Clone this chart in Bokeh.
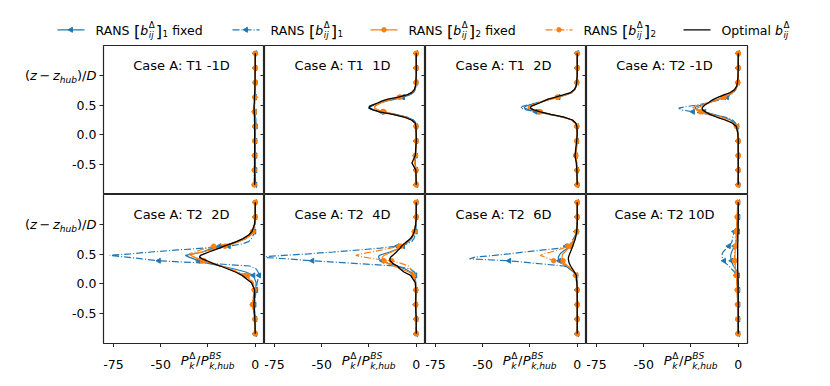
import math
from bokeh.plotting import figure
from bokeh.models import Range1d, LinearAxis, FixedTicker, Label, LabelSet, ColumnDataSource
from bokeh.core.properties import value
from bokeh.layouts import column, row
from bokeh.embed import file_html
from bokeh.resources import INLINE

# ------------------------------------------------------------------ data
# common vertical sampling (z - z_hub)/D of all profiles
Y_GRID = [-0.837, -0.592, -0.47, -0.347, -0.102, 0.02, 0.143, 0.2, 0.25, 0.3,
          0.345, 0.388, 0.42, 0.45, 0.478, 0.505, 0.535, 0.57, 0.6, 0.633,
          0.67, 0.71, 0.76, 0.82, 0.878, 1.0, 1.123, 1.245, 1.368]
MARKER_IDX = [0, 1, 3, 4, 6, 11, 19, 24, 26, 28]

X_TICKS = [-75, -50, -25, 0]
X_TICK_LABELS = ["-75", "-50", "", "0"]
Y_TICKS = [-0.5, 0.0, 0.5, 1.0]
Y_TICK_LABELS = ["-0.5", "0.0", "0.5", ""]

TITLES = ["Case A: T1 -1D", "Case A: T1 \u00a01D", "Case A: T1 \u00a02D", "Case A: T2 -1D",
          "Case A: T2 \u00a02D", "Case A: T2 \u00a04D", "Case A: T2 \u00a06D", "Case A: T2 10D"]

# T1 -1D
t1m1_b1f = [0, 0, 0, 0, 0, 0, 0.2, 0.2, 0.2, 0.1, 0, -0.2, -0.3, -0.4, -0.4, -0.4, -0.3, -0.3, -0.2, -0.1, 0, 0.1, 0.1, 0.1, 0.1, 0, 0, 0, 0]
t1m1_b1 = [0, 0, 0, 0, 0, 0.1, 0.2, 0.3, 0.3, 0.2, 0, -0.3, -0.5, -0.6, -0.6, -0.5, -0.4, -0.3, -0.2, -0.1, 0, 0.1, 0.1, 0.1, 0.1, 0, 0, 0, 0]
t1m1_b2f = [-0.5, -0.5, -0.4, -0.4, -0.3, -0.3, -0.2, -0.2, -0.2, -0.2, -0.3, -0.4, -0.4, -0.4, -0.4, -0.4, -0.3, -0.3, -0.2, -0.2, -0.1, -0.1, -0.1, 0, 0, 0, 0, 0, 0]
t1m1_b2 = [-0.6, -0.5, -0.5, -0.4, -0.3, -0.3, -0.2, -0.2, -0.3, -0.3, -0.4, -0.5, -0.5, -0.5, -0.5, -0.4, -0.4, -0.3, -0.2, -0.2, -0.1, -0.1, -0.1, 0, 0, 0, 0, 0, 0]
t1m1_opt = [-0.3, -0.3, -0.3, -0.3, -0.3, -0.3, -0.3, -0.3, -0.4, -0.4, -0.5, -0.5, -0.6, -0.6, -0.6, -0.6, -0.5, -0.5, -0.4, -0.4, -0.3, -0.3, -0.2, -0.2, -0.1, -0.1, 0, 0, 0]

# T1 1D
t1p1_b1f = [0, -0.1, -0.6, -0.3, 0, 0, 0, -0.3, -1.5, -5, -11, -18, -22.5, -24.5, -24, -22, -19, -15.5, -11, -7, -3.5, -1.5, -0.6, -0.2, 0, 0, 0, 0, 0]
t1p1_b1 = [0, -0.1, -0.7, -0.3, 0, 0, 0, -0.3, -1.6, -5.3, -11.5, -18.5, -23, -25, -24.5, -22.5, -19.5, -16, -11.5, -7.3, -3.7, -1.6, -0.6, -0.2, 0, 0, 0, 0, 0]
t1p1_b2f = [0, -0.1, -0.8, -0.4, 0, 0, -0.1, -0.5, -2.5, -6.5, -12, -17.5, -20.5, -22, -22, -21, -19, -16.5, -13, -9, -5, -2.5, -1, -0.4, -0.1, 0, 0, 0, 0]
t1p1_b2 = [0, -0.1, -1.0, -0.5, 0, 0, -0.1, -0.5, -2.3, -6, -11.5, -17, -20.5, -22.3, -22, -20.5, -18.5, -16, -12.5, -8.5, -4.8, -2.4, -1, -0.4, -0.1, 0, 0, 0, 0]
t1p1_opt = [0, -0.2, -2.3, -0.5, 0, 0, -0.2, -0.6, -2.5, -6.5, -12.5, -19.5, -23, -25, -24.8, -23, -20.5, -18, -15, -9.5, -5, -2.5, -1, -0.4, -0.2, 0, 0, 0, 0]

# T1 2D
t1p2_b1f = [0, -0.1, -0.3, -0.6, -0.2, 0, -0.2, -1, -3, -7.5, -14.5, -21, -25.5, -28, -27.5, -25, -21, -17.5, -14, -10, -6, -3, -1.3, -0.5, -0.2, 0, 0, 0, 0]
t1p2_b1 = [0, -0.1, -0.3, -0.6, -0.2, 0, -0.2, -1, -3, -8, -15, -22, -27, -30, -29, -26, -22, -18, -14.5, -10, -6, -3, -1.3, -0.5, -0.2, 0, 0, 0, 0]
t1p2_b2f = [0, -0.1, -0.4, -0.8, -0.3, 0, -0.2, -1, -3, -7.5, -14, -19.5, -23.5, -25.5, -25.5, -23.5, -20.5, -17.5, -14.5, -10.5, -6.5, -3.2, -1.4, -0.5, -0.2, 0, 0, 0, 0]
t1p2_b2 = [0, -0.1, -0.4, -0.8, -0.3, 0, -0.2, -1, -3, -7.5, -14, -20, -24, -26, -25.5, -23.5, -20.5, -17.5, -14.5, -10.5, -6.5, -3.2, -1.4, -0.5, -0.2, 0, 0, 0, 0]
t1p2_opt = [0, -0.2, -0.5, -1.2, -0.3, 0, -0.2, -0.8, -2.5, -7, -14, -19.5, -23, -24.8, -24.5, -22.5, -20, -17.5, -15.5, -11.5, -7.5, -3.5, -1.5, -0.6, -0.3, 0, 0, 0, 0]

# T2 -1D
t2m1_b1f = [0, 0, 0, 0, 0, -0.1, -0.6, -2, -4, -8, -13, -18, -21.5, -23, -22, -19, -16, -13, -10, -7.5, -5, -3, -1.5, -0.6, -0.2, 0, 0, 0, 0]
t2m1_b1 = [0, 0, 0, 0, 0, -0.1, -0.5, -1.5, -3, -7, -15, -24, -30, -31.5, -27, -21, -16.5, -12, -8.5, -6, -4, -2.5, -1.3, -0.6, -0.2, 0, 0, 0, 0]
t2m1_b2f = [0, 0, 0, 0, 0, -0.2, -1, -3, -6, -11, -16, -20, -22, -21.5, -20, -18, -15.5, -13, -10.5, -8, -5.5, -3.3, -1.6, -0.6, -0.2, 0, 0, 0, 0]
t2m1_b2 = [0, 0, 0, 0, 0, -0.2, -0.8, -2.5, -5, -9, -14, -19, -22, -24.5, -23, -20, -16.5, -13, -10, -7.5, -5, -3, -1.5, -0.6, -0.2, 0, 0, 0, 0]
t2m1_opt = [0, 0, 0, 0, 0, -0.2, -1, -3.3, -7, -11.5, -15, -17.5, -18.8, -19.2, -18.5, -17.5, -16, -14.5, -12.8, -10.5, -7.5, -4.2, -2, -0.8, -0.4, -0.1, 0, 0, 0]

# T2 2D
t2p2_b1f = [0, 0, -0.3, -0.5, 0.2, 0.5, -1, -5, -11, -18, -25, -30, -32.5, -35, -37, -33, -28, -25, -22, -19, -14, -9, -5, -2.5, -1, -0.3, 0, 0, 0]
t2p2_b1 = [0, 0, -0.3, -0.5, 0.5, 1, 2, 1.5, 0.5, -3, -24, -51, -60, -68, -77, -66, -55, -41, -27, -14, -7, -3.5, -2, -1, -0.5, 0, 0, 0, 0]
t2p2_b2f = [0, -0.2, -0.8, -1.5, -0.5, -1.5, -5, -10, -14, -18, -22, -27, -30, -32.5, -34, -33, -28, -23, -19, -16, -12, -8.5, -5.5, -3, -1.5, -0.4, 0, 0, 0]
t2p2_b2 = [0, -0.2, -0.8, -1.5, -0.5, -1, -4, -9, -13, -18, -23, -28, -30, -32, -34, -35, -32, -29, -26, -22, -15, -9, -5, -2.5, -1.2, -0.3, 0, 0, 0]
t2p2_opt = [0, -0.2, -0.5, -0.7, -0.3, -2, -7, -10.5, -14.5, -18.5, -22.5, -25.5, -28, -29.5, -29, -27, -24.5, -21.5, -19, -16.5, -13, -10, -6.5, -3.5, -1.7, -0.4, 0, 0, 0]

# T2 4D
t2p4_b1f = [0, 0, -0.2, -0.3, -0.2, -0.3, -1, -3, -6, -10, -15, -18, -19.5, -20, -19.5, -17, -14, -11, -9, -7, -5.5, -4, -2.5, -1.5, -0.8, -0.2, 0, 0, 0]
t2p4_b1 = [0, 0, -0.2, -0.3, -0.2, -0.3, -0.5, -1, -3, -11, -33, -55, -68, -83, -70, -57, -44, -30, -19, -10, -5, -2.5, -1.2, -0.6, -0.3, 0, 0, 0, 0]
t2p4_b2f = [0, 0, -0.2, -0.3, -0.2, -0.3, -1.5, -4, -8, -12, -15, -17, -18, -18, -17, -15, -13, -11, -9.5, -8, -6, -4.5, -3, -1.8, -1, -0.3, 0, 0, 0]
t2p4_b2 = [0, 0, -0.2, -0.3, -0.2, -0.5, -1.5, -2, -3, -4, -8, -13, -22, -28, -32, -29, -24, -18, -13.8, -9, -6, -4.5, -3, -1.8, -1, -0.3, 0, 0, 0]
t2p4_opt = [0, 0, -0.2, -0.3, -0.2, -0.5, -3, -6.5, -8.5, -10, -12.5, -13.8, -14, -13.5, -12.5, -11.5, -10.5, -9.5, -8.5, -7.8, -6.5, -5, -3, -1.8, -1, -0.3, 0, 0, 0]

# T2 6D
t2p6_b1f = [0, 0, 0, 0, 0, -0.2, -0.8, -2, -4, -6, -8, -9.5, -10, -10, -9.5, -9, -8, -6.5, -5, -4, -3, -2.2, -1.5, -0.8, -0.3, 0, 0, 0, 0]
t2p6_b1 = [0, 0, 0, 0, 0, 0, -0.5, -1.5, -3, -7, -22, -36, -57, -54, -44, -36, -28, -18, -9, -6, -4, -3, -2, -1, -0.5, -0.2, 0, 0, 0]
t2p6_b2f = [0, 0, 0, 0, 0, -0.3, -0.8, -1.5, -3, -5, -6.5, -7.5, -8, -8, -8, -7.5, -6.5, -5.5, -4.5, -3.5, -2.5, -2, -1.2, -0.7, -0.3, 0, 0, 0, 0]
t2p6_b2 = [0, 0, 0, 0, 0, -0.3, -0.8, -1.5, -3, -5, -8, -12.5, -15, -17, -19.5, -18, -14, -10, -7.5, -5, -3.5, -2.5, -1.5, -0.8, -0.4, -0.1, 0, 0, 0]
t2p6_opt = [0, 0, 0, 0, 0, -0.2, -0.5, -1.5, -2.5, -3.5, -4.2, -4.6, -4.7, -4.6, -4.3, -4, -3.6, -3.2, -2.8, -2.4, -2, -1.5, -1, -0.6, -0.3, 0, 0, 0, 0]

# T2 10D
t2p10_b1f = [0, 0, 0, 0, 0, 0, -0.2, -0.5, -1.5, -2.5, -3.2, -3.5, -3.8, -4, -4, -3.8, -3.5, -3, -2.5, -2, -1.5, -1, -0.6, -0.3, -0.1, 0, 0, 0, 0]
t2p10_b1 = [0, 0, 0, 0, 0, -0.3, -1, -2, -3.5, -5, -6.5, -7.5, -8, -8.5, -8.6, -8.5, -8, -7, -6, -5, -4, -3.3, -3, -2.7, -2, -0.5, 0, 0, 0]
t2p10_b2f = [-0.2, -0.3, -0.3, -0.3, -0.5, -0.7, -1, -1.2, -1.4, -1.5, -1.6, -1.7, -1.7, -1.7, -1.7, -1.7, -1.6, -1.6, -1.5, -1.4, -1.3, -1.2, -1.1, -1, -0.9, -0.7, -0.5, -0.4, -0.3]
t2p10_b2 = [-0.2, -0.3, -0.4, -0.4, -0.6, -0.8, -1.1, -1.4, -1.6, -1.8, -1.9, -2, -2, -2, -2, -2, -1.9, -1.8, -1.7, -1.6, -1.5, -1.4, -1.2, -1.1, -1, -0.8, -0.6, -0.4, -0.3]
t2p10_opt = [0, 0, 0, 0, -0.1, -0.1, -0.2, -0.2, -0.3, -0.3, -0.3, -0.3, -0.3, -0.3, -0.3, -0.3, -0.3, -0.3, -0.3, -0.3, -0.3, -0.2, -0.2, -0.2, -0.1, -0.1, 0, 0, 0]

PANEL_DATA = [
    (t1m1_b1f, t1m1_b1, t1m1_b2f, t1m1_b2, t1m1_opt),
    (t1p1_b1f, t1p1_b1, t1p1_b2f, t1p1_b2, t1p1_opt),
    (t1p2_b1f, t1p2_b1, t1p2_b2f, t1p2_b2, t1p2_opt),
    (t2m1_b1f, t2m1_b1, t2m1_b2f, t2m1_b2, t2m1_opt),
    (t2p2_b1f, t2p2_b1, t2p2_b2f, t2p2_b2, t2p2_opt),
    (t2p4_b1f, t2p4_b1, t2p4_b2f, t2p4_b2, t2p4_opt),
    (t2p6_b1f, t2p6_b1, t2p6_b2f, t2p6_b2, t2p6_opt),
    (t2p10_b1f, t2p10_b1, t2p10_b2f, t2p10_b2, t2p10_opt),
]

# ------------------------------------------------------------------ style
FONT = "DejaVu Sans"
BLUE = "#1f77b4"
ORANGE = "#ff7f0e"
SPINE = "#262626"
DASHDOT = "7 2 1 2"
LW = 1.2
X_RANGE = (-80.3, 4.9)
Y_RANGE = (-1.0, 1.5)
FW, FH = 161, 149
TICK = 4                 # tick length (px)
STRIP_W = 99             # width of the y-label strip left of the first column
XSTRIP_H = 26            # height of the x-label strip below the bottom row
XSTRIP_BASE = 17.3       # baseline of x tick labels inside that strip
TICK_FS = 12.5
TITLE_FS = 13
LEG_FS = 12.5
TRI_SIZE = 5
DOT_SIZE = 4.5

EM = {' ': 0.318, '(': 0.390, ')': 0.390, '[': 0.390, ']': 0.390, '/': 0.337, ',': 0.318,
      '-': 0.361, '\u2212': 0.838, '\u0394': 0.684, '.': 0.318, ':': 0.337,
      'A': 0.684, 'B': 0.686, 'D': 0.770, 'N': 0.748, 'O': 0.787, 'P': 0.603, 'R': 0.695, 'S': 0.635,
      'a': 0.613, 'b': 0.635, 'd': 0.635, 'e': 0.615, 'f': 0.352, 'h': 0.634, 'i': 0.278, 'j': 0.278,
      'k': 0.579, 'l': 0.278, 'm': 0.974, 'p': 0.635, 't': 0.392, 'u': 0.634, 'x': 0.592, 'z': 0.525,
      '1': 0.636, '2': 0.636}


def tw(s, size):
    return sum(EM.get(c, 0.6) for c in s) * size


class Runs:
    def __init__(self):
        self.x = 0.0
        self.items = []

    def add(self, t, size, italic=False, dy=0.0, gap=0.0):
        self.items.append((t, self.x, dy, size, italic))
        self.x += tw(t, size) + gap

    def stack(self, sup, sub, size, up, down, it_sup=False, it_sub=True, gap=0.5):
        self.items.append((sup, self.x, up, size, it_sup))
        self.items.append((sub, self.x, -down, size, it_sub))
        self.x += max(tw(sup, size), tw(sub, size)) + gap


def rich_set(runs, x, y, dx0=0.0, dy0=0.0):
    n = len(runs.items)
    src = ColumnDataSource(dict(
        x=[x] * n, y=[y] * n,
        text=[it[0] for it in runs.items],
        xo=[dx0 + it[1] for it in runs.items],
        yo=[dy0 + it[2] for it in runs.items],
        fs=[f"{it[3]:.2f}px" for it in runs.items],
        st=["italic" if it[4] else "normal" for it in runs.items]))
    return LabelSet(source=src, x="x", y="y", text="text", x_offset="xo", y_offset="yo",
                    text_font=value(FONT), text_font_size="fs", text_font_style="st",
                    text_align="left", text_baseline="alphabetic", text_color="black")


def tick_axis(ticks, tick_in, tick_out):
    ax = LinearAxis(ticker=FixedTicker(ticks=ticks),
                    major_label_overrides={t: "" for t in ticks})
    ax.axis_line_color = None
    ax.major_tick_line_color = SPINE
    ax.major_tick_line_width = 1
    ax.minor_tick_line_color = None
    ax.major_tick_in = tick_in
    ax.major_tick_out = tick_out
    ax.major_label_standoff = 0
    ax.major_label_text_font_size = "0px"
    return ax


def ylabel_runs():
    s = 13
    r = Runs()
    r.add("(", s)
    r.add("z", s, italic=True, gap=2.6)
    r.add("\u2212", s, gap=2.6)
    r.add("z", s, italic=True)
    r.add("hub", 0.7 * s, italic=True, dy=-3.0)
    r.add(")", s)
    r.add("/", s)
    r.add("D", s, italic=True)
    return r


def xlabel_runs():
    s = 13
    r = Runs()
    r.add("P", s, italic=True, gap=0.5)
    r.stack("\u0394", "k", 0.7 * s, 5.7, 4.3, it_sup=False, it_sub=True)
    r.add("/", s, gap=0.5)
    r.add("P", s, italic=True, gap=0.5)
    r.stack("BS", "k,hub", 0.7 * s, 5.7, 4.3, it_sup=True, it_sub=True)
    return r


def base_fig(**kw):
    f = figure(x_axis_location=None, y_axis_location=None, toolbar_location=None,
               output_backend="svg", **kw)
    f.grid.visible = False
    f.background_fill_color = "white"
    f.border_fill_color = "white"
    return f


def make_panel(r, c, title, data):
    b1f, b1, b2f, b2, opt = data
    p = base_fig(frame_width=FW, frame_height=FH,
                 x_range=Range1d(*X_RANGE), y_range=Range1d(*Y_RANGE),
                 min_border_left=TICK if c == 0 else 0,
                 min_border_right=2 if c == 3 else 0,
                 min_border_top=1 if r == 0 else 0,
                 min_border_bottom=TICK if r == 1 else 0)
    p.outline_line_color = SPINE
    p.outline_line_width = 1.2

    if c == 0:
        p.add_layout(tick_axis(Y_TICKS, 0, TICK), "left")
    if c < 3:   # ticks of the next column, which point into this panel
        p.add_layout(tick_axis(Y_TICKS, TICK, 0), "right")
    if r == 1:
        p.add_layout(tick_axis(X_TICKS, 0, TICK), "below")

    my = [Y_GRID[i] for i in MARKER_IDX]
    for xs, color, dash, mk in [(b1f, BLUE, "solid", "tri"), (b1, BLUE, DASHDOT, "tri"),
                                (b2f, ORANGE, "solid", "dot"), (b2, ORANGE, DASHDOT, "dot")]:
        p.line(xs, Y_GRID, line_color=color, line_width=LW, line_dash=dash)
        mx = [xs[i] for i in MARKER_IDX]
        if mk == "tri":
            p.scatter(mx, my, marker="triangle", angle=math.pi / 2, size=TRI_SIZE,
                      fill_color=color, line_color=color)
        else:
            p.scatter(mx, my, marker="circle", size=DOT_SIZE, fill_color=color, line_color=color)
    p.line(opt, Y_GRID, line_color="black", line_width=LW + 0.1)

    p.add_layout(Label(x=FW / 2 - 2.5, y=FH - 19.5, x_units="screen", y_units="screen",
                       text=title, text_align="center", text_baseline="alphabetic",
                       text_font=FONT, text_font_size=f"{TITLE_FS}px", text_color="black"))
    return p


def make_ystrip(r):
    """y tick labels and y label of the first column (same y scale as the panels)."""
    s = base_fig(frame_width=STRIP_W, frame_height=FH,
                 x_range=Range1d(0, STRIP_W), y_range=Range1d(*Y_RANGE),
                 min_border_left=0, min_border_right=0,
                 min_border_top=1 if r == 0 else 0,
                 min_border_bottom=TICK if r == 1 else 0)
    s.outline_line_color = None
    xr = STRIP_W - 3
    s.text(x=[xr] * 3, y=Y_TICKS[:3], text=Y_TICK_LABELS[:3],
           text_align="right", text_baseline="middle", text_font=value(FONT),
           text_font_size=f"{TICK_FS}px", text_color="black")
    yl = ylabel_runs()
    s.add_layout(rich_set(yl, xr - yl.x, Y_TICKS[3], dy0=-4.5))
    return s


def make_xstrip(c):
    """x tick labels and x label under one bottom panel (same x scale)."""
    s = base_fig(frame_width=FW, frame_height=XSTRIP_H,
                 x_range=Range1d(*X_RANGE), y_range=Range1d(XSTRIP_H, 0),
                 min_border_left=STRIP_W + TICK if c == 0 else 0,
                 min_border_right=2 if c == 3 else 0,
                 min_border_top=0, min_border_bottom=0)
    s.outline_line_color = None
    xs = [t for t, l in zip(X_TICKS, X_TICK_LABELS) if l]
    ls = [l for l in X_TICK_LABELS if l]
    s.text(x=xs, y=[XSTRIP_BASE] * len(xs), text=ls, text_align="center",
           text_baseline="alphabetic", text_font=value(FONT),
           text_font_size=f"{TICK_FS}px", text_color="black")
    xl = xlabel_runs()
    s.add_layout(rich_set(xl, X_TICKS[2], XSTRIP_BASE, dx0=-xl.x / 2))
    return s


# ------------------------------------------------------------------ legend
LEG_W, LEG_H = 820, 44
leg = base_fig(width=LEG_W, height=LEG_H, x_range=Range1d(0, LEG_W), y_range=Range1d(LEG_H, 0),
               min_border=0)
leg.outline_line_color = None

LEG_X = [57, 232, 370, 545, 683]
HANDLE_LEN = 27
LEG_LINE_Y = 29.3
LEG_BASE_Y = 34.3


def rans_runs(sub, fixed):
    F = LEG_FS
    r = Runs()
    r.add("RANS ", F)
    r.add("[", 1.3 * F, dy=-2.5)
    r.add("b", F, italic=True, gap=0.5)
    r.stack("\u0394", "ij", 0.7 * F, 7.0, 3.0, it_sup=False, it_sub=True, gap=1.0)
    r.add("]", 1.3 * F, dy=-2.5, gap=0.5)
    r.add(sub, 0.7 * F, dy=-2.5)
    if fixed:
        r.x += tw(" ", F)
        r.add("fixed", F)
    return r


def opt_runs():
    F = LEG_FS
    r = Runs()
    r.add("Optimal ", F)
    r.add("b", F, italic=True, gap=0.5)
    r.stack("\u0394", "ij", 0.7 * F, 7.0, 3.0, it_sup=False, it_sub=True)
    return r


LEG_ENTRIES = [(BLUE, "solid", "tri", rans_runs("1", True)),
               (BLUE, DASHDOT, "tri", rans_runs("1", False)),
               (ORANGE, "solid", "dot", rans_runs("2", True)),
               (ORANGE, DASHDOT, "dot", rans_runs("2", False)),
               ("black", "solid", None, opt_runs())]

for x0, (color, dash, mk, runs) in zip(LEG_X, LEG_ENTRIES):
    leg.line([x0, x0 + HANDLE_LEN], [LEG_LINE_Y, LEG_LINE_Y], line_color=color,
             line_width=LW, line_dash=dash)
    if mk == "tri":
        leg.scatter([x0 + HANDLE_LEN / 2], [LEG_LINE_Y], marker="triangle", angle=math.pi / 2,
                    size=TRI_SIZE, fill_color=color, line_color=color)
    elif mk == "dot":
        leg.scatter([x0 + HANDLE_LEN / 2], [LEG_LINE_Y], marker="circle", size=DOT_SIZE,
                    fill_color=color, line_color=color)
    leg.add_layout(rich_set(runs, x0 + HANDLE_LEN + 11, LEG_BASE_Y))

# ------------------------------------------------------------------ layout
panels = [make_panel(i // 4, i % 4, TITLES[i], PANEL_DATA[i]) for i in range(8)]
layout = column(leg,
                row(make_ystrip(0), *panels[:4]),
                row(make_ystrip(1), *panels[4:]),
                row(*[make_xstrip(c) for c in range(4)]))

open("out.html", "w").write(file_html(layout, INLINE))
